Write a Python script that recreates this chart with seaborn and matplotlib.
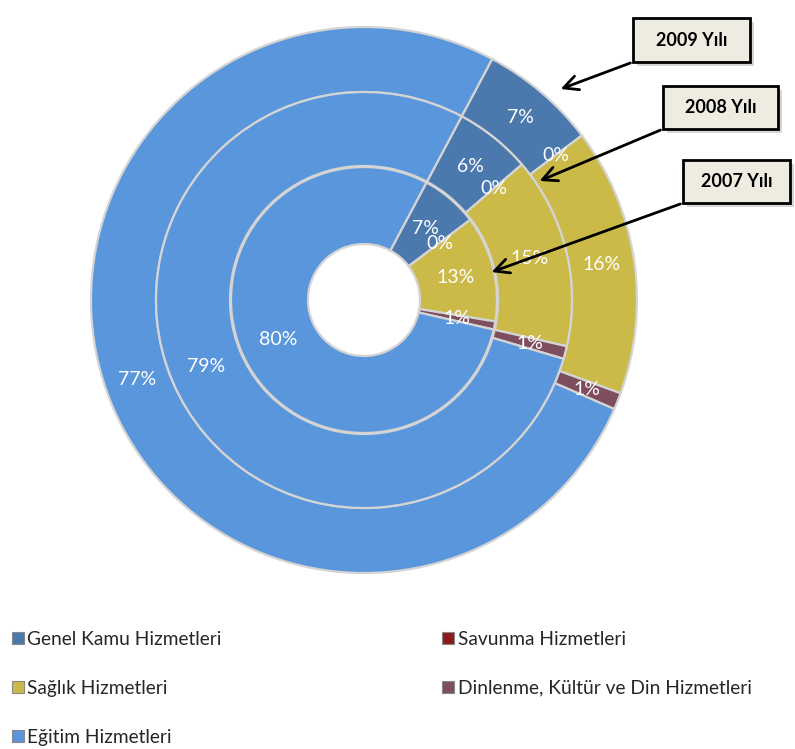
import matplotlib
matplotlib.use("Agg")
import matplotlib.pyplot as plt
import seaborn as sns
import numpy as np
from matplotlib.patches import Rectangle
from matplotlib.lines import Line2D

sns.set_theme(style="white")
plt.rcParams['font.family'] = ['Lato', 'DejaVu Sans']

categories = ["Genel Kamu Hizmetleri", "Savunma Hizmetleri", "Sağlık Hizmetleri",
              "Dinlenme, Kültür ve Din Hizmetleri", "Eğitim Hizmetleri"]
values_2007 = [7, 0, 13, 1, 80]
values_2008 = [6, 0, 15, 1, 79]
values_2009 = [7, 0, 16, 1, 77]
year_labels = ["2007 Yılı", "2008 Yılı", "2009 Yılı"]

colors = ["#4B79AD", "#8B1A1A", "#CBBA48", "#7E4E5E", "#5A96DC"]

W, H = 795, 749
fig = plt.figure(figsize=(W / 100, H / 100), dpi=100)
ax = fig.add_axes([0, 0, 1, 1])

def Y(y):
    return H - y

cx, cy = 364, Y(300)
start = 62
rings = [  # (values, outer radius, width)
    (values_2007, 133, 77),
    (values_2008, 208, 74),
    (values_2009, 273, 65),
]

for vals, r, w in reversed(rings):
    ax.pie(vals, radius=r, center=(cx, cy), startangle=start, counterclock=False,
           colors=colors, normalize=True,
           wedgeprops=dict(width=w, edgecolor="#d4d4d4", linewidth=1.6))
    total = float(sum(vals))
    cum = 0.0
    rm = r - w / 2
    for v in vals:
        ang = np.deg2rad(start - 360 * (cum + v / 2) / total)
        cum += v
        ax.text(cx + rm * np.cos(ang), cy + rm * np.sin(ang), f"{v}%",
                ha="center", va="center", color="white", fontsize=14)

# annotation boxes
boxes = [  # (label, x0, y0, x1, y1, target)
    (year_labels[2], 633, 18, 750, 62, (558, 90)),
    (year_labels[1], 663, 86, 778, 129, (537, 182)),
    (year_labels[0], 683, 160, 790, 203, (489, 273)),
]
for lab, x0, y0, x1, y1, tgt in boxes:
    ax.add_patch(Rectangle((x0 + 4, Y(y1) - 4), x1 - x0, y1 - y0,
                           facecolor="#bbbbbb", edgecolor="none", alpha=0.6, zorder=4))
    ax.add_patch(Rectangle((x0, Y(y1)), x1 - x0, y1 - y0,
                           facecolor="#EEECE1", edgecolor="black", linewidth=2, zorder=5))
    ax.text((x0 + x1) / 2, Y((y0 + y1) / 2), lab, ha="center", va="center",
            fontsize=13, fontweight="bold", color="black", zorder=6)
    ax.annotate("", xy=(tgt[0], Y(tgt[1])), xytext=(x0, Y(y1)),
                arrowprops=dict(arrowstyle="->", lw=2, color="black", mutation_scale=26),
                zorder=6)

ax.set_xlim(0, W)
ax.set_ylim(0, H)
ax.set_aspect("equal")
ax.axis("off")

# legend in row-wise order
order = [0, 2, 4, 1, 3]
handles = [Line2D([0], [0], marker="s", linestyle="none", markersize=8,
                  markerfacecolor=colors[i], markeredgecolor="#888888",
                  markeredgewidth=0.8) for i in order]
labels = [categories[i] for i in order]
fig.legend(handles, labels, loc="upper left", bbox_to_anchor=(10 / W, 1 - 631 / H),
           ncol=2, frameon=False, fontsize=13.8, labelspacing=1.66,
           handletextpad=0.1, handlelength=0.8, columnspacing=11.4,
           borderaxespad=0, borderpad=0)

fig.savefig("out.png", dpi=100)
